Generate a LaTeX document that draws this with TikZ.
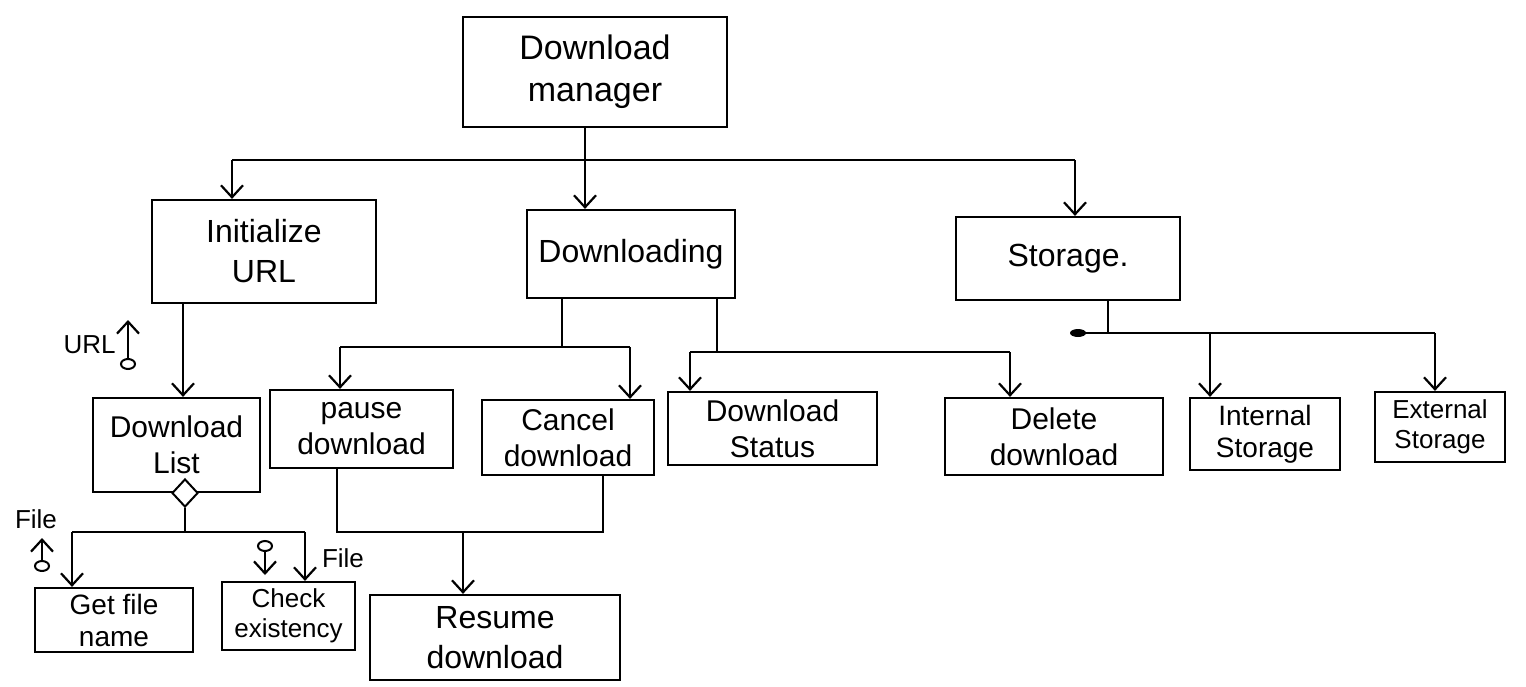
\documentclass[tikz,border=0pt]{standalone}
\usepackage{fontspec}
\setmainfont{Liberation Sans}
\usetikzlibrary{arrows.meta,shapes.geometric}

\tikzset{
  blk/.style={draw, line width=1.1pt, align=center, inner sep=1pt,
              font=\fontsize{15}{18}\selectfont},
  sz/.style 2 args={minimum width=#1*0.5pt, minimum height=#2*0.5pt},
  ln/.style={line width=1.1pt},
  arr/.style={line width=1.1pt, -{Straight Barb[length=6pt,width=11pt]}},
  flag/.style={draw, ellipse, line width=1pt, minimum width=7pt, minimum height=5pt, inner sep=0pt},
  lbl/.style={font=\fontsize{13}{15}\selectfont, inner sep=0pt}
}

\begin{document}
\begin{tikzpicture}[x=0.5pt, y=-0.5pt]
\useasboundingbox[fill=white] (0,0) rectangle (1526,686);

% ---- modules ----
\node[blk, sz={264}{110}, font=\fontsize{17}{21}\selectfont] (mgr) at (595,72) {Download\\manager};
\node[blk, sz={224}{103}, font=\fontsize{16}{20}\selectfont] (init) at (264,251.5) {Initialize\\URL};
\node[blk, sz={208}{88}, font=\fontsize{16}{20}\selectfont]  (dl)   at (631,254)   {Downloading};
\node[blk, sz={224}{83}, font=\fontsize{16}{20}\selectfont]  (sto)  at (1068,258.5){Storage.};
\node[blk, sz={167}{94}]  (list)     at (176.5,445) {Download\\List};
\node[blk, sz={183}{78}]  (pause)    at (361.5,429) {pause\\download};
\node[blk, sz={172}{75}]  (cancel)   at (568,437.5) {Cancel\\download};
\node[blk, sz={209}{73}]  (status)   at (772.5,428.5){Download\\Status};
\node[blk, sz={218}{77}]  (delete)   at (1054,436.5){Delete\\download};
\node[blk, sz={150}{72}, font=\fontsize{14}{16}\selectfont] (internal) at (1265,434) {Internal\\Storage};
\node[blk, sz={130}{70}, font=\fontsize{13}{15}\selectfont] (external) at (1440,427) {External\\Storage};
\node[blk, sz={158}{64}, font=\fontsize{14}{16}\selectfont] (getname)  at (114,620)  {Get file\\name};
\node[blk, sz={133}{68}, font=\fontsize{13}{15}\selectfont] (check)    at (288.5,616) {Check\\existency};
\node[blk, sz={250}{85}, font=\fontsize{16}{20}\selectfont] (resume) at (495,637.5) {Resume\\download};

% ---- root level ----
\coordinate (rootbus) at (585,160);
\coordinate (busL) at (232,160);
\coordinate (busR) at (1075,160);
\draw[ln] (mgr.south -| rootbus) -- (rootbus);
\draw[ln] (busL) -- (busR);
\draw[arr] (rootbus) -- (rootbus |- dl.north);
\draw[arr] (busL) -- (busL |- init.north);
\draw[arr] (busR) -- (busR |- sto.north);

% ---- Initialize URL branch ----
\coordinate (initdrop) at (183,303);
\draw[arr] (initdrop |- init.south) -- (initdrop |- list.north);

\node[flag] (urlc) at (128,364) {};
\coordinate (urltip) at (128,320);
\draw[arr] (urlc.north) -- (urltip);
\node[lbl, anchor=east] (urll) at ([xshift=-2pt]urlc.west |- 0,345) {URL};

% ---- Download List with selection diamond ----
\node[draw, diamond, line width=1pt, fill=white, minimum width=13pt, minimum height=14pt, inner sep=0pt] (agg) at (185,493) {};
\coordinate (lbusL) at (72,532);
\coordinate (lbusR) at (305,532);
\draw[ln] (agg.south) -- (agg.south |- lbusL);
\draw[ln] (lbusL) -- (lbusR);
\draw[arr] (lbusL) -- (lbusL |- getname.north);
\draw[arr] (lbusR) -- (lbusR |- check.north);

\node[flag] (filec1) at (42,566) {};
\coordinate (filetip1) at (42,538);
\draw[arr] (filec1.north) -- (filetip1);
\node[lbl] (filel1) at (36,519) {File};

\node[flag] (filec2) at (265,546) {};
\coordinate (filetip2) at (265,575);
\draw[arr] (filec2.south) -- (filetip2);
\node[lbl] (filel2) at (343,558) {File};

% ---- Downloading branch ----
\coordinate (dA) at (562,347);
\coordinate (dAL) at (340,347);
\coordinate (dAR) at (630,347);
\draw[ln] (dA |- dl.south) -- (dA);
\draw[ln] (dAL) -- (dAR);
\draw[arr] (dAL) -- (dAL |- pause.north);
\draw[arr] (dAR) -- (dAR |- cancel.north);

\coordinate (dB) at (717,352);
\coordinate (dBL) at (690,352);
\coordinate (dBR) at (1010,352);
\draw[ln] (dB |- dl.south) -- (dB);
\draw[ln] (dBL) -- (dBR);
\draw[arr] (dBL) -- (dBL |- status.north);
\draw[arr] (dBR) -- (dBR |- delete.north);

% pause / cancel both lead to resume
\coordinate (rjL) at (337,532);
\coordinate (rjR) at (603,532);
\coordinate (rjM) at (463,532);
\draw[ln] (rjL |- pause.south) -- (rjL) -- (rjR) -- (rjR |- cancel.south);
\draw[arr] (rjM) -- (rjM |- resume.north);

% ---- Storage branch ----
\coordinate (sA) at (1108,333);
\coordinate (sL) at (1078,333);
\coordinate (sR) at (1435,333);
\coordinate (sM) at (1210,333);
\draw[ln] (sA |- sto.south) -- (sA);
\draw[ln] (sL) -- (sR);
\node[ellipse, fill=black, minimum width=8pt, minimum height=4pt, inner sep=0pt] (sdot) at (sL) {};
\draw[arr] (sM) -- (sM |- internal.north);
\draw[arr] (sR) -- (sR |- external.north);
\end{tikzpicture}
\end{document}
